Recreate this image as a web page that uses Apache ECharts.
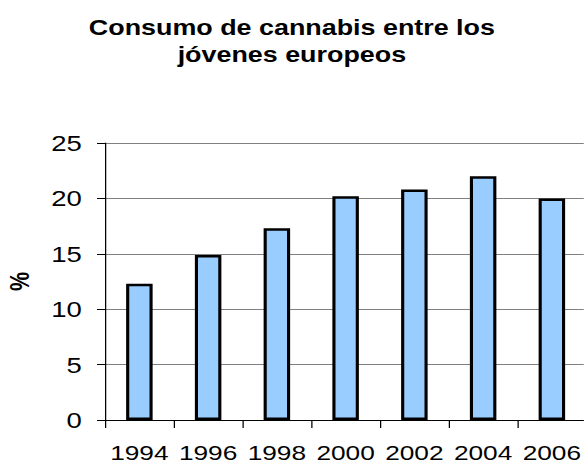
<!DOCTYPE html>
<html>
<head>
<meta charset="utf-8">
<script src="https://cdn.jsdelivr.net/npm/echarts@6/dist/echarts.min.js"></script>
<style>
html,body{margin:0;padding:0;background:#fff;overflow:hidden;}
#wrap{width:584px;height:463px;overflow:hidden;}
#chart{width:467.2px;height:463px;transform:scaleX(1.25);transform-origin:0 0;}
</style>
</head>
<body>
<div id="wrap"><div id="chart"></div></div>
<script>
const titleText = 'Consumo de cannabis entre los\njóvenes europeos';
const yAxisName = '%';
const categories = ['1994', '1996', '1998', '2000', '2002', '2004', '2006'];
const values = [12.3, 14.9, 17.3, 20.2, 20.8, 22.0, 20.0];
const yTicks = [0, 5, 10, 15, 20, 25];

const font = "'Liberation Sans', Arial, sans-serif";
const chart = echarts.init(document.getElementById('chart'), null, { renderer: 'svg' });
chart.setOption({
  animation: false,
  backgroundColor: '#ffffff',
  title: {
    text: titleText,
    left: 'center',
    top: 9,
    textStyle: {
      fontFamily: font,
      fontSize: 21.5,
      fontWeight: 'bold',
      color: '#000',
      lineHeight: 27
    }
  },
  grid: { left: 84, top: 143, right: -2, bottom: 43, containLabel: false, outerBoundsMode: 'none' },
  xAxis: {
    type: 'category',
    data: categories,
    boundaryGap: true,
    axisLine: { show: true, lineStyle: { color: '#000', width: 1 } },
    axisTick: { show: true, length: 8, inside: false, alignWithLabel: false, lineStyle: { color: '#000' } },
    axisLabel: { fontFamily: font, fontSize: 21, lineHeight: 17, color: '#000', margin: 24, interval: 0 },
    splitLine: { show: false }
  },
  yAxis: {
    type: 'value',
    min: yTicks[0],
    max: yTicks[yTicks.length - 1],
    interval: 5,
    name: yAxisName,
    nameLocation: 'middle',
    nameRotate: 90,
    nameGap: 57,
    nameTextStyle: { fontFamily: font, fontSize: 21.5, fontWeight: 'bold', color: '#000' },
    axisLine: { show: true, lineStyle: { color: '#000', width: 1 } },
    axisTick: { show: true, length: 6.4, inside: false, lineStyle: { color: '#000' } },
    axisLabel: { fontFamily: font, fontSize: 22, color: '#000', margin: 18.5 },
    splitLine: { show: true, lineStyle: { color: '#808080', width: 1 } }
  },
  series: [{
    type: 'bar',
    data: values,
    barWidth: 21.2,
    itemStyle: { color: '#99CCFF', borderColor: '#000', borderWidth: 2.5 }
  }]
});
</script>
</body>
</html>
